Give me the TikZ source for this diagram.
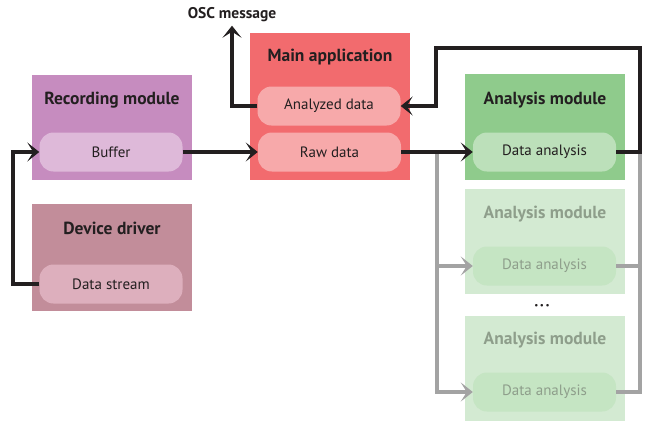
\documentclass[tikz,border=0pt]{standalone}
\usepackage{fontspec}
\setmainfont{PT Sans}
\usetikzlibrary{arrows.meta, positioning}

\definecolor{recfill}{HTML}{C68CBF}
\definecolor{recpill}{HTML}{DEB9D9}
\definecolor{devfill}{HTML}{C28D9A}
\definecolor{devpill}{HTML}{DDAFBD}
\definecolor{appfill}{HTML}{F26B6E}
\definecolor{apppill}{HTML}{F7A9AA}
\definecolor{anafill}{HTML}{8FCB8C}
\definecolor{anapill}{HTML}{BCE0BA}
\definecolor{fadefill}{HTML}{D3EAD2}
\definecolor{fadepill}{HTML}{C5E5C3}
\definecolor{fadetext}{HTML}{8E9E8B}
\definecolor{ink}{HTML}{231F20}
\definecolor{wire}{HTML}{A3A3A3}

\tikzset{
  modbox/.style={rectangle, minimum width=160pt, inner sep=0pt},
  title/.style={font=\fontsize{17.5}{20}\selectfont\bfseries, text=ink},
  pill/.style={rectangle, rounded corners=14pt, minimum width=143pt,
    minimum height=39pt, inner sep=0pt, font=\fontsize{15}{17}\selectfont, text=ink},
  fadetitle/.style={title, text=fadetext},
  fadepill/.style={pill, fill=fadepill, text=fadetext},
  flow/.style={line width=4pt, draw=ink,
    -{Stealth[length=12pt, width=19pt, inset=6pt]}},
  branch/.style={line width=3.5pt, draw=wire,
    -{Stealth[length=12pt, width=19pt, inset=6pt]}},
  branchline/.style={line width=3.5pt, draw=wire}
}

\begin{document}
\begin{tikzpicture}[x=1pt, y=-1pt]
\useasboundingbox (0,0) rectangle (649,421);

% Recording module
\node[modbox, minimum height=105pt, fill=recfill] (rec) at (112,127.5) {};
\node[title] (rectitle) at (112,100) {Recording module};
\node[pill, fill=recpill] (buffer) at (111,152) {Buffer};

% Device driver
\node[modbox, minimum height=107pt, fill=devfill] (dev) at (112,257.5) {};
\node[title] (devtitle) at (112,228) {Device driver};
\node[pill, fill=devpill] (dstream) at (111,284) {Data stream};

% Main application
\node[modbox, minimum height=147pt, fill=appfill] (app) at (330,106.5) {};
\node[title] (apptitle) at (330,57) {Main application};
\node[pill, fill=apppill] (analyzed) at (329,106) {Analyzed data};
\node[pill, fill=apppill] (raw) at (329.5,152) {Raw data};
\node[font=\fontsize{15.5}{18}\selectfont\bfseries, text=ink] (osc) at (232,15) {OSC message};

% Analysis module
\node[modbox, minimum height=106pt, fill=anafill] (ana) at (545,127) {};
\node[title] (anatitle) at (545,100) {Analysis module};
\node[pill, fill=anapill] (da) at (544.5,152) {Data analysis};

% Analysis module (faded)
\node[modbox, minimum height=105pt, fill=fadefill] (anab) at (545,241.5) {};
\node[fadetitle] (anabtitle) at (545,214) {Analysis module};
\node[fadepill] (dab) at (544.5,266) {Data analysis};

\node[font=\fontsize{9}{10}\selectfont, text=ink] (dots) at (542,306)
  {\textbullet\,\textbullet\,\textbullet};

% Analysis module (faded)
\node[modbox, minimum height=105pt, fill=fadefill] (anac) at (545,368.5) {};
\node[fadetitle] (anactitle) at (545,340) {Analysis module};
\node[fadepill] (dac) at (544.5,392) {Data analysis};

% gray branches
\coordinate (split) at (437,152);
\coordinate (join) at (640,152);
\draw[branch] (split) |- (dac.west);
\draw[branch] (split |- dab.west) -- (dab.west);
\draw[branchline] (dac.east) -| (join);
\draw[branchline] (dab.east) -- (join |- dab.east);

% black flow
\draw[flow] (dstream.west) -- ++(-26,0) |- (buffer.west);
\draw[flow] (buffer.east) -- (raw.west);
\draw[flow] (raw.east) -- (da.west);
\draw[flow] (da.east) -| (640,48) -| (436,106) -- (analyzed.east);
\draw[flow] (analyzed.west) -| (osc.south);
\end{tikzpicture}
\end{document}
